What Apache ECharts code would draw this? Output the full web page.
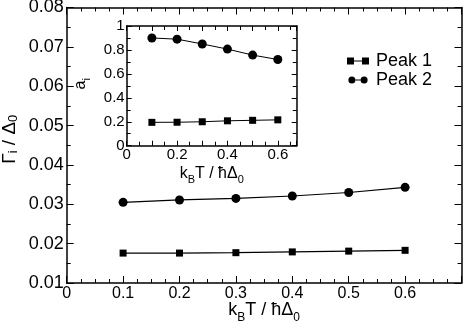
<!DOCTYPE html>
<html>
<head>
<meta charset="utf-8">
<script src="https://cdn.jsdelivr.net/npm/echarts@6/dist/echarts.min.js"></script>
<style>html,body{margin:0;padding:0;background:#fff}#c{width:463px;height:329px}</style>
</head>
<body>
<div id="c"></div>
<script>
const temps = [0.1, 0.2, 0.3, 0.4, 0.5, 0.6];
const gammaPeak1 = [0.0176, 0.0176, 0.0177, 0.0179, 0.0181, 0.0183];
const gammaPeak2 = [0.0305, 0.0311, 0.0315, 0.0321, 0.0330, 0.0343];
const ampPeak1 = [0.195, 0.196, 0.200, 0.208, 0.212, 0.216];
const ampPeak2 = [0.900, 0.890, 0.850, 0.807, 0.757, 0.720];
const seriesNames = ['Peak 1', 'Peak 2'];

const FONT = 'Liberation Sans';
const pair = (xs, ys) => xs.map((x, i) => [x, ys[i]]);
function richName(size, subSize, lh) {
  return {
    n: {fontSize: size, fontFamily: FONT, color: '#000', lineHeight: lh, verticalAlign: 'top'},
    s: {fontSize: subSize, fontFamily: FONT, color: '#000', lineHeight: lh, verticalAlign: 'bottom'}
  };
}

function axBase(extra) {
  return Object.assign({
    type: 'value',
    nameMoveOverlap: false,
    axisLine: {show: true, onZero: false, lineStyle: {color: '#000', width: 1.5}},
    axisTick: {show: true, inside: true, length: 7, lineStyle: {color: '#000', width: 1}},
    minorTick: {show: true, length: 4, lineStyle: {color: '#000', width: 1}},
    splitLine: {show: false},
    axisLabel: {color: '#000', fontFamily: FONT}
  }, extra);
}

const chart = echarts.init(document.getElementById('c'), null, {renderer: 'canvas'});
const option = {
  backgroundColor: '#fff',
  animation: false,
  grid: [
    {left: 66.7, top: 7.5, right: 1.5, bottom: 46, outerBoundsMode: 'none', containLabel: false},
    {left: 126.7, top: 26, right: 166.3, bottom: 183.3, outerBoundsMode: 'none', containLabel: false,
      show: true, backgroundColor: '#fff', borderWidth: 0}
  ],
  xAxis: [
    axBase({gridIndex: 0, position: 'bottom', min: 0, max: 0.7, interval: 0.1,
      minorTick: {show: true, splitNumber: 4, length: 4, lineStyle: {color: '#000'}},
      axisLabel: {color: '#000', fontFamily: FONT, fontSize: 16, margin: 3,
        formatter: v => (Math.abs(v - 0.7) < 1e-6 ? '' : (Math.abs(v) < 1e-9 ? '0' : v.toFixed(1)))},
      name: '{n|k}{s|B}{n|T / ħΔ}{s|0}', nameLocation: 'middle', nameGap: 18,
      nameTextStyle: {color: '#000', fontFamily: FONT, fontSize: 18, verticalAlign: 'top', rich: richName(18, 12, 23)}}),
    axBase({gridIndex: 0, position: 'top', min: 0, max: 0.7, interval: 0.1,
      minorTick: {show: true, splitNumber: 4, length: 4, lineStyle: {color: '#000'}},
      axisLabel: {show: false}}),
    axBase({gridIndex: 1, position: 'bottom', min: 0, max: 0.675, interval: 0.1,
      axisTick: {show: true, inside: true, length: 5, lineStyle: {color: '#000'}},
      minorTick: {show: true, splitNumber: 2, length: 4, lineStyle: {color: '#000'}},
      axisLabel: {color: '#000', fontFamily: FONT, fontSize: 15, margin: 2,
        formatter: v => { const k = Math.round(v * 10); if (Math.abs(v*10 - k) > 1e-6 || k % 2) return ''; return k === 0 ? '0' : v.toFixed(1); }},
      name: '{n|k}{s|B}{n|T / ħΔ}{s|0}', nameLocation: 'middle', nameGap: 20,
      nameTextStyle: {color: '#000', fontFamily: FONT, fontSize: 16, verticalAlign: 'top', rich: richName(16, 11, 20)}}),
    axBase({gridIndex: 1, position: 'top', min: 0, max: 0.675, interval: 0.1,
      axisTick: {show: true, inside: true, length: 5, lineStyle: {color: '#000'}},
      minorTick: {show: true, splitNumber: 2, length: 4, lineStyle: {color: '#000'}},
      axisLabel: {show: false}})
  ],
  yAxis: [
    axBase({gridIndex: 0, position: 'left', min: 0.01, max: 0.08, interval: 0.01,
      minorTick: {show: true, splitNumber: 2, length: 4, lineStyle: {color: '#000'}},
      axisLabel: {color: '#000', fontFamily: FONT, fontSize: 18, margin: 3, formatter: v => v.toFixed(2)},
      name: '{n|Γ}{s|i}{n| / Δ}{s|0}', nameLocation: 'middle', nameGap: 46.7,
      nameTextStyle: {color: '#000', fontFamily: FONT, fontSize: 19, padding: [0, 0, 0, 12], rich: richName(19, 13, 20)}}),
    axBase({gridIndex: 0, position: 'right', min: 0.01, max: 0.08, interval: 0.01,
      minorTick: {show: true, splitNumber: 2, length: 4, lineStyle: {color: '#000'}},
      axisLabel: {show: false}}),
    axBase({gridIndex: 1, position: 'left', min: 0, max: 1, interval: 0.2,
      axisTick: {show: true, inside: true, length: 5, lineStyle: {color: '#000'}},
      minorTick: {show: true, splitNumber: 2, length: 4, lineStyle: {color: '#000'}},
      axisLabel: {color: '#000', fontFamily: FONT, fontSize: 15, margin: 2,
        formatter: v => (v === 0 ? '0' : v === 1 ? '1' : v.toFixed(1))},
      name: '{n|a}{s|i}', nameLocation: 'middle', nameGap: 34,
      nameTextStyle: {color: '#000', fontFamily: FONT, fontSize: 16, padding: [0, 0, 0, 4], rich: richName(16, 11, 20)}}),
    axBase({gridIndex: 1, position: 'right', min: 0, max: 1, interval: 0.2,
      axisTick: {show: true, inside: true, length: 5, lineStyle: {color: '#000'}},
      minorTick: {show: true, splitNumber: 2, length: 4, lineStyle: {color: '#000'}},
      axisLabel: {show: false}})
  ],
  legend: {
    orient: 'vertical', left: 347, top: 52, padding: 0, itemGap: 1, itemWidth: 22, itemHeight: 7,
    textStyle: {color: '#000', fontFamily: FONT, fontSize: 18, padding: [0,0,0,2]},
    data: [
      {name: seriesNames[0], icon: 'path://M0,0.5h7v7h-7z M7,3.5h8v1h-8z M15,0.5h7v7h-7z'},
      {name: seriesNames[1], icon: 'path://M0,4a4,4 0 1,1 8,0a4,4 0 1,1 -8,0z M8,3.5h6v1h-6z M14,4a4,4 0 1,1 8,0a4,4 0 1,1 -8,0z'}
    ]
  },
  series: [
    {name: seriesNames[0], type: 'line', xAxisIndex: 0, yAxisIndex: 0, data: pair(temps, gammaPeak1),
      symbol: 'rect', symbolSize: 7, itemStyle: {color: '#000'}, lineStyle: {color: '#000', width: 1.2}},
    {name: seriesNames[1], type: 'line', xAxisIndex: 0, yAxisIndex: 0, data: pair(temps, gammaPeak2),
      symbol: 'circle', symbolSize: 9, itemStyle: {color: '#000'}, lineStyle: {color: '#000', width: 1.2}},
    {name: seriesNames[0], type: 'line', xAxisIndex: 2, yAxisIndex: 2, data: pair(temps, ampPeak1),
      symbol: 'rect', symbolSize: 7, itemStyle: {color: '#000'}, lineStyle: {color: '#000', width: 1}},
    {name: seriesNames[1], type: 'line', xAxisIndex: 2, yAxisIndex: 2, data: pair(temps, ampPeak2),
      symbol: 'circle', symbolSize: 9, itemStyle: {color: '#000'}, lineStyle: {color: '#000', width: 1}}
  ]
};
chart.setOption(option);
</script>
</body>
</html>
